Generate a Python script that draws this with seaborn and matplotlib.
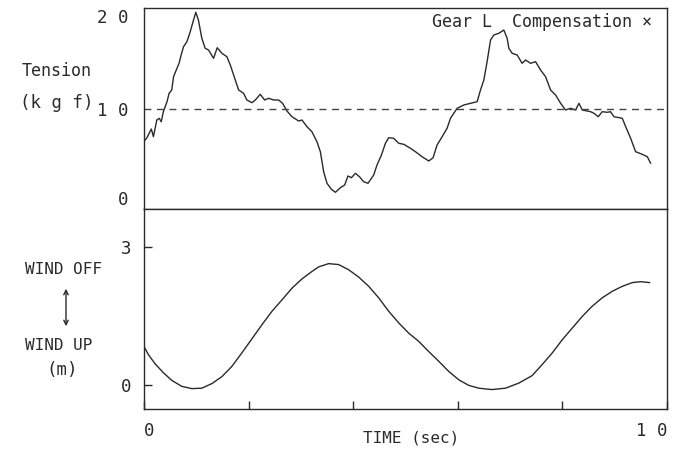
import numpy as np
import pandas as pd
import matplotlib
matplotlib.use("Agg")
import matplotlib.pyplot as plt
import seaborn as sns

# ---- data ----
tension_time = [0.0, 0.05, 0.14, 0.18, 0.245, 0.29, 0.33, 0.37, 0.44, 0.48, 0.53, 0.565, 0.63, 0.67,
                0.71, 0.756, 0.82, 0.884, 0.947, 0.99, 1.04, 1.106, 1.17, 1.234, 1.33, 1.40, 1.49,
                1.585, 1.65, 1.745, 1.81, 1.904, 1.967, 2.063, 2.128, 2.224, 2.306, 2.383, 2.478,
                2.574, 2.65, 2.733, 2.829, 2.957, 3.02, 3.116, 3.21, 3.307, 3.372, 3.435, 3.499,
                3.583, 3.66, 3.755, 3.837, 3.90, 3.966, 4.042, 4.119, 4.20, 4.283, 4.392, 4.455,
                4.54, 4.616, 4.68, 4.775, 4.871, 4.967, 5.095, 5.19, 5.317, 5.445, 5.527, 5.604,
                5.70, 5.795, 5.86, 5.923, 5.987, 6.115, 6.243, 6.37, 6.434, 6.498, 6.56, 6.626,
                6.689, 6.785, 6.88, 6.944, 6.976, 7.04, 7.135, 7.23, 7.296, 7.39, 7.487, 7.583,
                7.678, 7.774, 7.87, 7.966, 8.06, 8.157, 8.253, 8.316, 8.38, 8.475, 8.54, 8.603,
                8.685, 8.762, 8.857, 8.92, 8.986, 9.145, 9.21, 9.305, 9.40, 9.527, 9.623, 9.688]
tension_kgf = [6.8, 7.07, 8.0, 7.23, 8.9, 9.07, 8.73, 9.73, 10.73, 11.57, 11.9, 13.23, 14.07, 14.57,
               15.4, 16.23, 16.73, 17.73, 18.9, 19.67, 18.9, 17.07, 16.07, 15.9, 15.07, 16.13, 15.57,
               15.23, 14.4, 12.9, 11.9, 11.57, 10.9, 10.63, 10.9, 11.47, 10.9, 11.07, 10.9,
               10.9, 10.57, 9.8, 9.23, 8.8, 8.9, 8.23, 7.73, 6.73, 5.73, 3.73, 2.57,
               1.97, 1.67, 2.13, 2.4, 3.3, 3.13, 3.57, 3.23, 2.73, 2.57, 3.4, 4.4,
               5.4, 6.57, 7.13, 7.07, 6.57, 6.47, 6.07, 5.73, 5.23, 4.8, 5.13, 6.4,
               7.23, 8.07, 9.07, 9.57, 10.07, 10.4, 10.57, 10.73, 11.9, 12.9, 14.73, 16.9,
               17.4, 17.57, 17.9, 17.07, 16.07, 15.57, 15.4, 14.57, 14.9, 14.57, 14.73, 13.9,
               13.23, 11.9, 11.4, 10.57, 9.9, 10.07, 9.9, 10.57, 9.9, 9.8, 9.73, 9.57,
               9.23, 9.73, 9.67, 9.73, 9.23, 9.07, 8.23, 7.07, 5.73, 5.47, 5.23, 4.57]

wind_time = [0.0, 0.086, 0.21, 0.373, 0.53, 0.72, 0.915, 1.106, 1.30, 1.49, 1.68, 1.87, 2.06,
             2.255, 2.446, 2.64, 2.83, 3.02, 3.21, 3.34, 3.53, 3.72, 3.91, 4.105, 4.297, 4.488,
             4.68, 4.87, 5.06, 5.254, 5.445, 5.636, 5.828, 6.02, 6.21, 6.40, 6.56, 6.657, 6.913,
             7.168, 7.42, 7.613, 7.805, 8.0, 8.19, 8.38, 8.57, 8.76, 8.95, 9.145, 9.336, 9.497,
             9.67]
wind_m = [0.84, 0.66, 0.47, 0.27, 0.11, -0.02, -0.07, -0.06, 0.04, 0.19, 0.41, 0.70, 1.00,
          1.31, 1.60, 1.85, 2.10, 2.30, 2.46, 2.56, 2.63, 2.61, 2.50, 2.34, 2.14, 1.89,
          1.60, 1.35, 1.13, 0.95, 0.73, 0.52, 0.30, 0.12, 0.0, -0.06, -0.08, -0.09, -0.06,
          0.05, 0.21, 0.45, 0.70, 0.99, 1.24, 1.49, 1.71, 1.89, 2.03, 2.14, 2.22, 2.24,
          2.22]

reference_tension = 10
x_tick_values = [0, 2, 4, 6, 8, 10]
x_tick_labels = ["0", "", "", "", "", "1 0"]
tension_ticks = [0, 10, 20]
tension_tick_labels = ["0", "1 0", "2 0"]
wind_ticks = [0, 3]
wind_tick_labels = ["0", "3"]

df_t = pd.DataFrame({"time": tension_time, "tension": tension_kgf})
df_w = pd.DataFrame({"time": wind_time, "wind": wind_m})

sns.set_theme(style="white")
plt.rcParams["font.family"] = ["DejaVu Sans Mono", "DejaVu Sans"]

INK = "#2a2a2a"
W, H = 678, 457
fig = plt.figure(figsize=(W / 100, H / 100), dpi=100)
fig.patch.set_facecolor("white")

left = 144 / W
width = (667 - 144) / W
ax1 = fig.add_axes([left, 1 - 209 / H, width, (209 - 8) / H])
ax2 = fig.add_axes([left, 1 - 409 / H, width, (409 - 209) / H])

sns.lineplot(data=df_t, x="time", y="tension", ax=ax1, color=INK, lw=1.0, sort=False)
ax1.axhline(reference_tension, color="#444444", lw=1.0, ls=(0, (5, 4)))
sns.lineplot(data=df_w, x="time", y="wind", ax=ax2, color=INK, lw=1.0, sort=False)

for ax in (ax1, ax2):
    ax.set_xlim(0, 10)
    ax.set_xlabel("")
    ax.set_ylabel("")
    ax.set_facecolor("white")
    for s in ax.spines.values():
        s.set_visible(True)
        s.set_color(INK)
        s.set_linewidth(1.0)

ax1.set_ylim(0, 20.1)
ax1.set_xticks([])
ax1.set_yticks(tension_ticks)
ax1.set_yticklabels(tension_tick_labels, fontsize=12.5, color=INK)
ax1.tick_params(axis="y", length=0, pad=11)
lbls = ax1.get_yticklabels()
lbls[0].set_va("bottom")
lbls[-1].set_va("top")

ax2.set_ylim(-0.51, 3.81)
ax2.set_xticks(x_tick_values)
ax2.set_xticklabels(x_tick_labels, fontsize=12.5, color=INK)
ax2.set_yticks(wind_ticks)
ax2.set_yticklabels(wind_tick_labels, fontsize=12.5, color=INK)
ax2.tick_params(axis="both", direction="in", length=6, width=1.0, color=INK,
                bottom=True, left=True, top=False, right=False)
ax2.tick_params(axis="x", pad=9)
ax2.tick_params(axis="y", pad=9)
xl = ax2.get_xticklabels()
xl[0].set_ha("left")
xl[-1].set_ha("right")

ax1.text(0.971, 0.93, "Gear L  Compensation ×", transform=ax1.transAxes,
         ha="right", va="center", fontsize=12, color=INK)

def ftext(px, py, s, **kw):
    fig.text(px / W, 1 - py / H, s, color=INK, **kw)

ftext(22, 71, "Tension", ha="left", va="center", fontsize=12)
ftext(20, 103, "(k g f)", ha="left", va="center", fontsize=12.5)
ftext(25, 270, "WIND OFF", ha="left", va="center", fontsize=11.5)
ftext(25, 346, "WIND UP", ha="left", va="center", fontsize=11.5)
ftext(46, 370, "(m)", ha="left", va="center", fontsize=12.5)
ftext(411, 438, "TIME (sec)", ha="center", va="center", fontsize=11.5)
fig.add_artist(matplotlib.patches.FancyArrowPatch(
    (66 / W, 1 - 286 / H), (66 / W, 1 - 329 / H), transform=fig.transFigure,
    arrowstyle="<->", mutation_scale=8, color=INK, lw=1.0))

fig.savefig("out.png", dpi=100, facecolor="white")
